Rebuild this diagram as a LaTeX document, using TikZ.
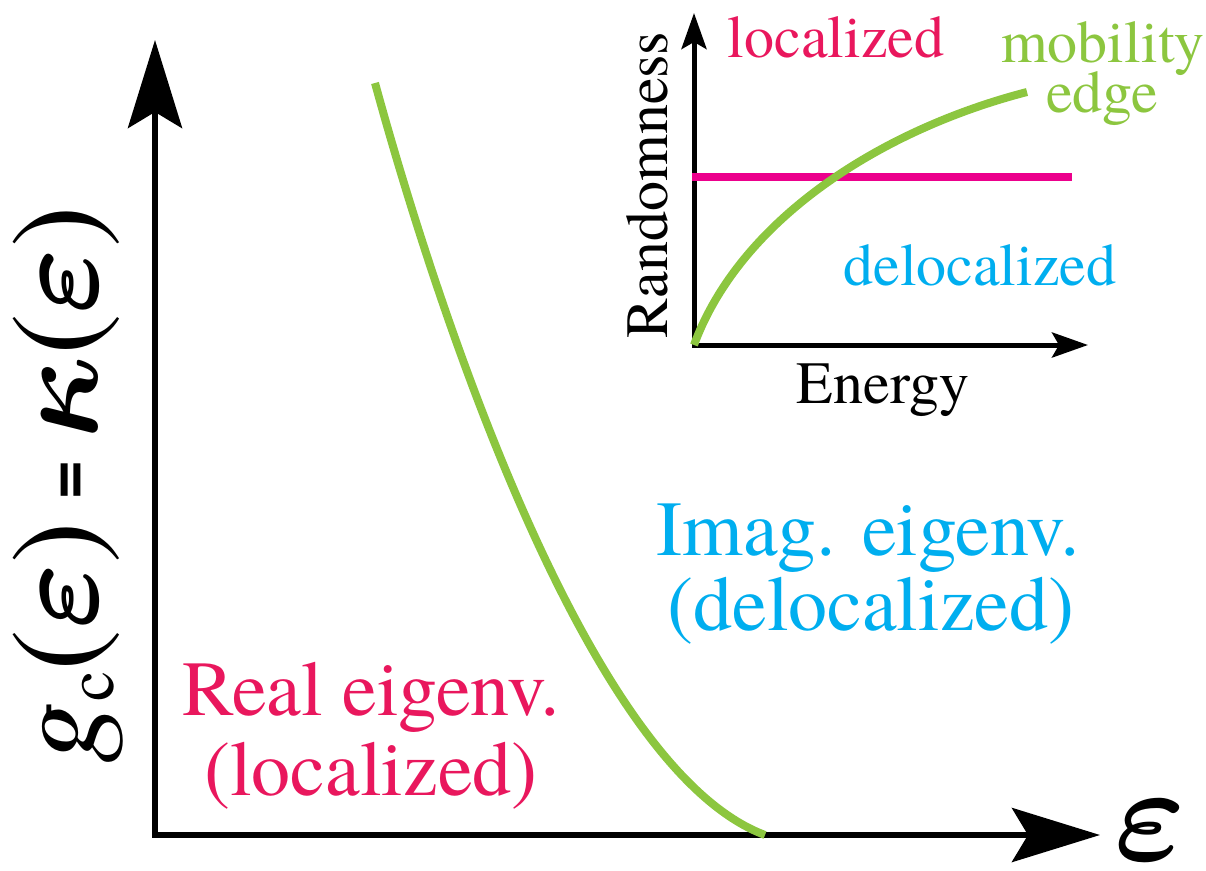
\RequirePackage{fix-cm}
\documentclass[tikz,border=0pt]{standalone}
\usepackage{bm}
\usepackage{fontspec}
\setmainfont{texgyretermes}[Extension=.otf, UprightFont=*-regular, BoldFont=*-bold, ItalicFont=*-italic, BoldItalicFont=*-bolditalic]
\newfontfamily\sansf{texgyreheros}[Extension=.otf, UprightFont=*-regular, BoldFont=*-bold]
\usetikzlibrary{arrows.meta}
\definecolor{crim}{HTML}{E9175D}
\definecolor{mag}{HTML}{EC008C}
\definecolor{cyn}{HTML}{00AEEF}
\definecolor{grn}{HTML}{8CC63F}
\tikzset{
  bigtip/.tip={Stealth[length=88pt,width=54pt,inset=16pt]},
  smalltip/.tip={Stealth[length=36pt,width=25pt,inset=7pt]},
  mainaxis/.style={line width=6pt, bigtip-bigtip},
  insetaxis/.style={line width=5pt, smalltip-smalltip},
  bigtext/.style={font=\fontsize{78}{80}\selectfont, anchor=base, inner sep=0pt},
  smalltext/.style={font=\fontsize{60}{62}\selectfont, anchor=base, inner sep=0pt},
  curve/.style={grn, line width=8pt},
}
\begin{document}
\begin{tikzpicture}[x=1pt,y=-1pt]
\useasboundingbox (0,0) rectangle (1206,870);
% main axes
\coordinate (O) at (155,835);
\coordinate (ytip) at (155,40);
\coordinate (xtip) at (1100,835);
\draw[mainaxis] (ytip) -- (O) -- (xtip);
% main curve
\coordinate (c0) at (375,83);
\coordinate (c1) at (765,835);
\draw[curve] (c0) .. controls (440,320) and (590,770) .. (c1);
% axis labels
\node[rotate=90, anchor=base, inner sep=0pt, font=\fontsize{125}{125}\selectfont] (ylab) at (97,485)
  {\textit{g}{\fontsize{68}{68}\selectfont\raisebox{-16pt}{c}}($\bm{\varepsilon}$)\,{\sansf\bfseries\fontsize{70}{70}\selectfont\raisebox{0.12em}{=}}\,$\bm{\kappa}$($\bm{\varepsilon}$)};
\node[anchor=base, inner sep=0pt, font=\fontsize{135}{135}\selectfont] (xlab) at (1150,860) {$\bm{\varepsilon}$};
% region labels
\node[bigtext, crim] (real1) at (371,715) {Real eigenv.};
\node[bigtext, crim] (real2) at (371,795) {(localized)};
\node[bigtext, cyn] (imag1) at (868,555) {Imag. eigenv.};
\node[bigtext, cyn] (imag2) at (871,630) {(delocalized)};
% inset
\coordinate (iO) at (694,345);
\coordinate (iytip) at (694,13);
\coordinate (ixtip) at (1088,345);
\draw[insetaxis] (iytip) -- (iO) -- (ixtip);
\coordinate (p0) at (692,177);
\coordinate (p1) at (1072,177);
\draw[mag, line width=8pt] (p0) -- (p1);
\coordinate (m1) at (1027,92);
\draw[curve] (iO) .. controls (740,220) and (880,130) .. (m1);
\node[smalltext, crim] (loc) at (836,57) {localized};
\node[smalltext, grn] (mob1) at (1103,62) {mobility};
\node[smalltext, grn] (mob2) at (1102,112) {edge};
\node[smalltext, cyn] (deloc) at (980,285) {delocalized};
\node[smalltext, rotate=90] (rand) at (667,185) {Randomness};
\node[smalltext] (energy) at (883,403) {Energy};
\end{tikzpicture}
\end{document}
